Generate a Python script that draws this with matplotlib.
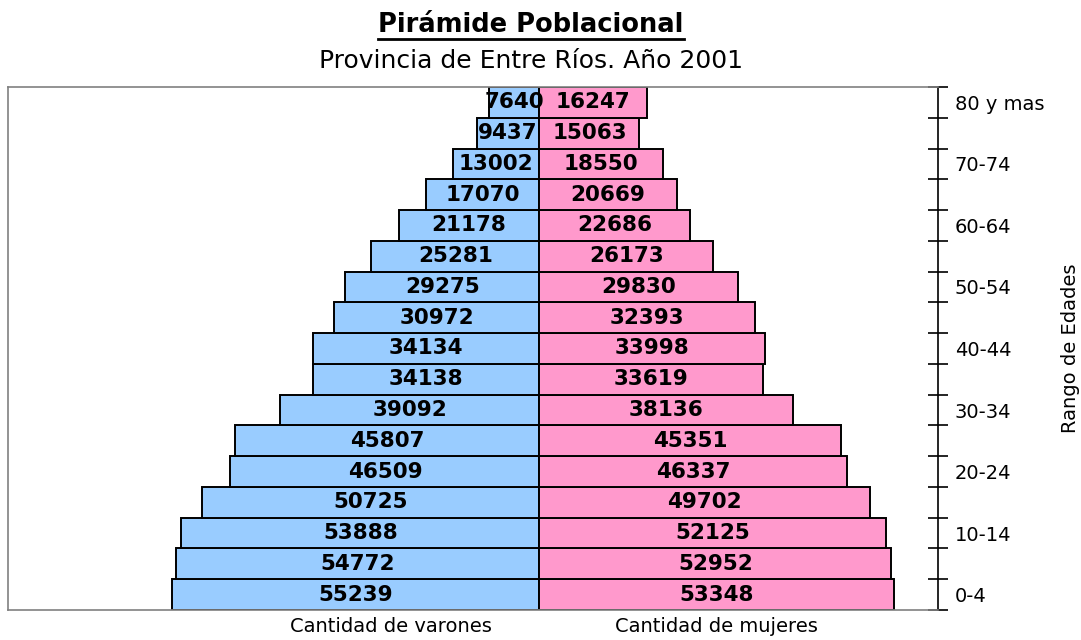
import matplotlib
matplotlib.use("Agg")
import matplotlib.pyplot as plt
import numpy as np

categories = ["0-4", "5-9", "10-14", "15-19", "20-24", "25-29", "30-34", "35-39",
              "40-44", "45-49", "50-54", "55-59", "60-64", "65-69", "70-74",
              "75-79", "80 y mas"]
varones = [55239, 54772, 53888, 50725, 46509, 45807, 39092, 34138, 34134,
           30972, 29275, 25281, 21178, 17070, 13002, 9437, 7640]
mujeres = [53348, 52952, 52125, 49702, 46337, 45351, 38136, 33619, 33998,
           32393, 29830, 26173, 22686, 20669, 18550, 15063, 16247]

plt.rcParams['font.family'] = ['DejaVu Sans']

fig = plt.figure(figsize=(10.81, 6.40), dpi=100)
ax = fig.add_axes([8/1081, 1-610/640, (938-8)/1081, (610-87)/640])

y = np.arange(len(categories))
ax.barh(y, [-v for v in varones], height=1.0, color="#99CCFF", edgecolor="black", linewidth=1.4)
ax.barh(y, mujeres, height=1.0, color="#FF99CC", edgecolor="black", linewidth=1.4)

for i, (v, m) in enumerate(zip(varones, mujeres)):
    ax.text(-v/2, i, str(v), ha="center", va="center", fontsize=15.5, fontweight="bold", color="black")
    ax.text(m/2, i, str(m), ha="center", va="center", fontsize=15.5, fontweight="bold", color="black")

ax.set_xlim(-80000, 60000)
ax.set_ylim(-0.5, len(categories)-0.5)

for s in ["left", "top", "bottom"]:
    ax.spines[s].set_color("#808080")
    ax.spines[s].set_linewidth(1.2)
ax.spines["right"].set_color("black")
ax.spines["right"].set_linewidth(1.2)

ax.yaxis.tick_right()
ax.set_yticks(y[::2])
ax.set_yticklabels([categories[i] for i in y[::2]], fontsize=14)
ax.set_yticks(np.arange(-0.5, len(categories), 1.0), minor=True)
ax.tick_params(axis="y", which="major", length=0, pad=12)
ax.tick_params(axis="y", which="minor", direction="inout", length=15, width=1.2, color="black")
ax.tick_params(axis="y", which="both", left=False)

ax.set_xticks([-22300, 26700])
ax.set_xticklabels(["Cantidad de varones", "Cantidad de mujeres"], fontsize=14)
ax.tick_params(axis="x", length=0, pad=5)

ax.yaxis.set_label_position("right")
ax.set_ylabel("Rango de Edades", fontsize=14, labelpad=12)

fig.text(531/1081, 1-25/640, "Pirámide Poblacional", ha="center", va="center",
         fontsize=18.5, fontweight="bold")
t = fig.texts[-1]
fig.canvas.draw()
bb = t.get_window_extent()
fig.add_artist(plt.Line2D([bb.x0/1081, bb.x1/1081], [(bb.y0-1)/640, (bb.y0-1)/640],
                          color="black", linewidth=2, transform=fig.transFigure))
fig.text(531/1081, 1-61/640, "Provincia de Entre Ríos. Año 2001", ha="center", va="center",
         fontsize=18)

fig.savefig("out.png", dpi=100)
